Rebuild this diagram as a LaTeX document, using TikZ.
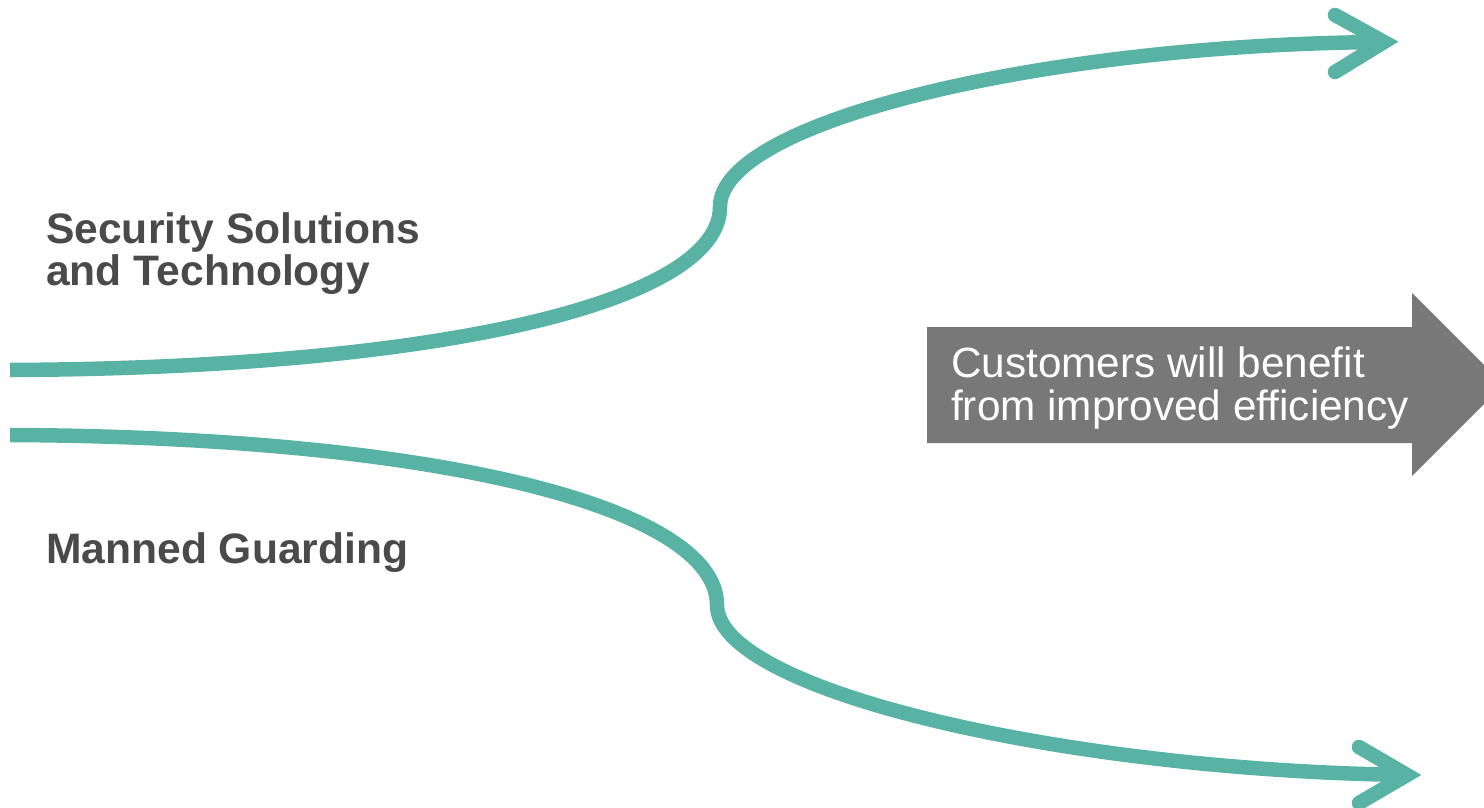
\documentclass[tikz,border=0pt]{standalone}
\usepackage{fontspec}
\setmainfont{Liberation Sans}
\definecolor{teal}{HTML}{58B3A5}
\definecolor{darktext}{HTML}{4A4A4A}
\definecolor{arrowgray}{HTML}{787878}
\begin{document}
\begin{tikzpicture}[x=1pt,y=-1pt,
  flow/.style={draw=teal,line width=14.5pt},
  headstyle/.style={draw=teal,line width=14.5pt,line cap=round,line join=miter},
  label/.style={text=darktext,font=\fontsize{42.6}{42}\selectfont\bfseries,align=left,inner sep=0pt},
  boxtext/.style={text=white,font=\fontsize{42.3}{43}\selectfont,align=left,inner sep=0pt}]
\useasboundingbox (0,0) rectangle (1484,808);
\clip (0,0) rectangle (1484,808);
% teal curves
\coordinate (s1) at (10,370);
\coordinate (m1) at (720,207);
\coordinate (e1) at (1384,42);
\coordinate (s2) at (10,435);
\coordinate (m2) at (717,605);
\coordinate (e2) at (1407,775);
\draw[flow] (s1) .. controls (450,368) and (720,300) .. (m1)
  .. controls (720,120) and (1050,44) .. (e1);
\draw[flow] (s2) .. controls (450,437) and (717,510) .. (m2)
  .. controls (717,690) and (1060,770) .. (e2);
\draw[headstyle] (1335,15) -- (e1) -- (1335,72);
\draw[headstyle] (1359,747) -- (e2) -- (1359,803);
% gray arrow
\fill[arrowgray] (927,327) -- (1412,327) -- (1412,293) -- (1503.5,384.5)
  -- (1412,476) -- (1412,443) -- (927,443) -- cycle;
\node[boxtext,anchor=base west] (benefit) at (951,420) {Customers will benefit\\from improved efficiency};
% labels
\node[label,anchor=base west] (sst) at (46,285) {Security Solutions\\and Technology};
\node[label,anchor=base west] (mg) at (46,563) {Manned Guarding};
\end{tikzpicture}
\end{document}
